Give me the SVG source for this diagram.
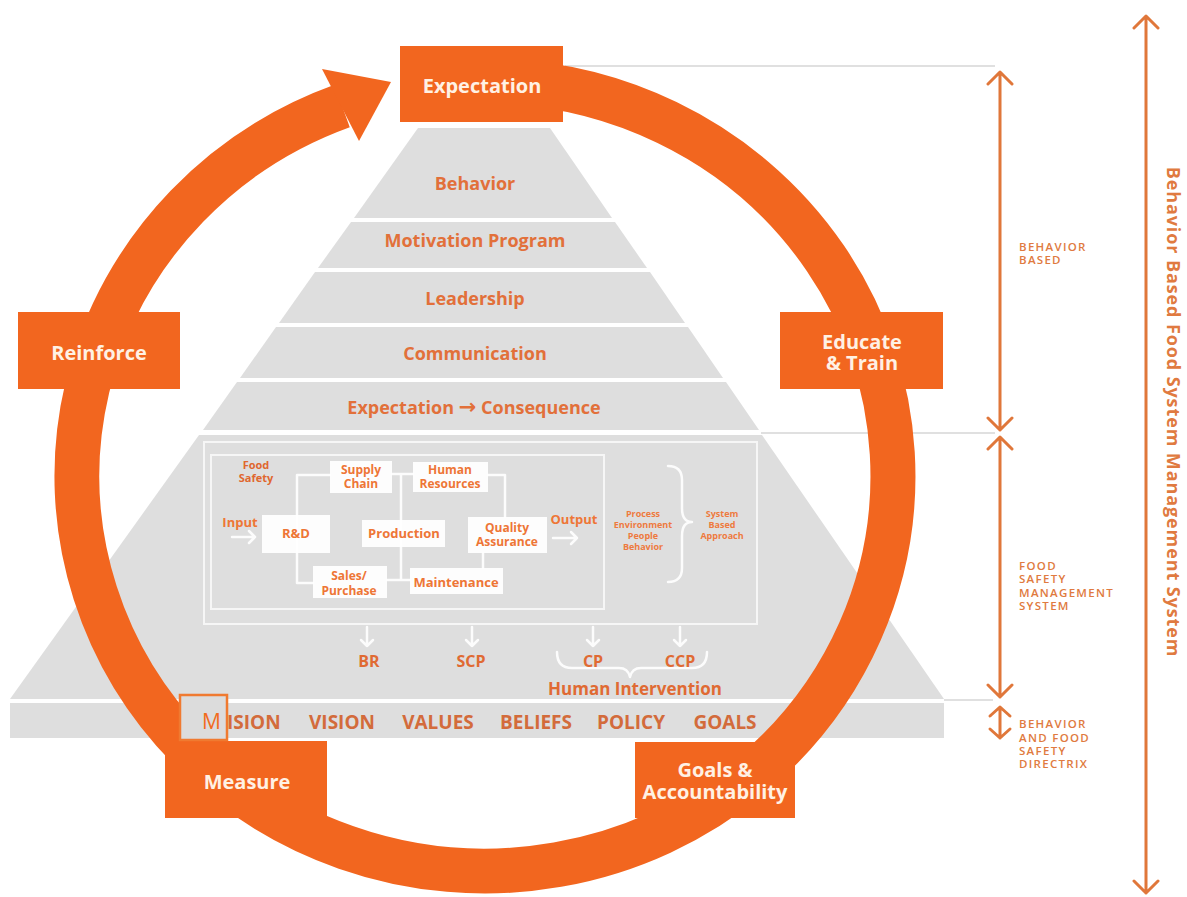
<svg xmlns="http://www.w3.org/2000/svg" width="1187" height="897" viewBox="0 0 1187 897">
  <defs>
    <style>
      text { font-family: "Open Sans", "Liberation Sans", sans-serif; }
      .tier { fill: #DEDEDE; }
      .tier-lbl { font-size: 18px; font-weight: 700; fill: #E2703A; text-anchor: middle; }
      .cycle-box { fill: #F2661F; }
      .cycle-lbl { font-size: 20px; font-weight: 700; fill: #FFF1E4; text-anchor: middle; }
      .flow-box { fill: #FFFFFF; fill-opacity: 0.92; }
      .flow-lbl { font-size: 12px; font-weight: 700; fill: #EE7636; text-anchor: middle; }
      .flow-big { font-size: 13px; }
      .flow-line { fill: none; stroke: #FFFFFF; stroke-width: 2.5; stroke-opacity: 0.9; stroke-linecap: round; stroke-linejoin: round; }
      .frame { fill: none; stroke: #F6F6F6; stroke-width: 2; }
      .tiny { font-size: 9px; font-weight: 700; fill: #EE7A3E; text-anchor: middle; }
      .point { font-size: 16px; font-weight: 700; fill: #E06A33; text-anchor: middle; }
      .base-lbl { font-size: 19px; font-weight: 700; fill: #D36B3B; text-anchor: middle; }
      .guide { stroke: #D6D6D6; stroke-width: 1.5; }
      .dim { fill: none; stroke: #E0773A; stroke-width: 3; stroke-linecap: round; stroke-linejoin: round; }
      .dim-lbl { font-size: 11.5px; font-weight: 600; fill: #E07A40; letter-spacing: 1.3px; }
    </style>
  </defs>

  <rect width="1187" height="897" fill="#FFFFFF"/>

  <!-- light guide lines running out to the scale on the right -->
  <g id="guides">
    <path class="guide" d="M565 66 H995"/>
    <path class="guide" d="M761 433 H995"/>
    <path class="guide" d="M944 700 H993"/>
  </g>

  <!-- pyramid tiers -->
  <g id="pyramid">
    <g id="tier-behavior">
      <polygon class="tier" points="418,128 550,128 612,218 354,218"/>
      <text class="tier-lbl" x="475" y="190">Behavior</text>
    </g>
    <g id="tier-motivation">
      <polygon class="tier" points="351,222 615,222 647,268 318,268"/>
      <text class="tier-lbl" x="475" y="247">Motivation Program</text>
    </g>
    <g id="tier-leadership">
      <polygon class="tier" points="315,272 650,272 685,323 279,323"/>
      <text class="tier-lbl" x="475" y="305">Leadership</text>
    </g>
    <g id="tier-communication">
      <polygon class="tier" points="276,327 688,327 723,378 240,378"/>
      <text class="tier-lbl" x="475" y="360">Communication</text>
    </g>
    <g id="tier-consequence">
      <polygon class="tier" points="237,382 726,382 759,430 203,430"/>
      <text class="tier-lbl" x="474" y="414">Expectation <tspan font-family="DejaVu Sans, sans-serif" font-size="21">→</tspan> Consequence</text>
    </g>
    <g id="tier-fsms">
      <polygon class="tier" points="199,435 762,435 944,699 10,699"/>
    </g>
    <g id="base-strip">
      <rect class="tier" x="10" y="703" width="934" height="35"/>
      <text class="base-lbl" x="227" y="729" style="text-anchor:start">ISION</text>
      <text class="base-lbl" x="342" y="729">VISION</text>
      <text class="base-lbl" x="438" y="729">VALUES</text>
      <text class="base-lbl" x="536" y="729">BELIEFS</text>
      <text class="base-lbl" x="631" y="729">POLICY</text>
      <text class="base-lbl" x="725" y="729">GOALS</text>
    </g>
  </g>

  <!-- food safety management system block -->
  <g id="fsms">
    <rect class="frame" x="204" y="442" width="553" height="182"/>
    <rect class="frame" x="211" y="455" width="393" height="154"/>

    <g id="flow-connectors">
      <path class="flow-line" d="M330 475 H297 V583 H313"/>
      <path class="flow-line" d="M392 474 H413 M401 474 V580 M387 580 H410"/>
      <path class="flow-line" d="M488 475 H505 V517"/>
      <path class="flow-line" d="M483 553 V568"/>
      <path class="flow-line" d="M232 537 H255 M249 531 L255 537 L249 543"/>
      <path class="flow-line" d="M553 538 H577 M571 532 L577 538 L571 544"/>
      <path class="flow-line" d="M668 466 Q682 466 682 480 V508 Q682 522 692 522 Q682 522 682 536 V568 Q682 582 668 582"/>
      <path class="flow-line" d="M367 627 V646 M361 640 L367 646 L373 640"/>
      <path class="flow-line" d="M472 627 V646 M466 640 L472 646 L478 640"/>
      <path class="flow-line" d="M593 627 V646 M587 640 L593 646 L599 640"/>
      <path class="flow-line" d="M680 627 V646 M674 640 L680 646 L686 640"/>
      <path class="flow-line" d="M557 652 Q557 668 572 668 H619 Q628 668 630 677 Q632 668 641 668 H692 Q707 668 707 652"/>
    </g>

    <g id="food-safety">
      <text class="flow-lbl" x="256" y="469" style="fill:#E0672E;font-size:11px">Food</text>
      <text class="flow-lbl" x="256" y="482" style="fill:#E0672E;font-size:11px">Safety</text>
    </g>
    <g id="input"><text class="flow-lbl flow-big" x="240" y="527">Input</text></g>
    <g id="supply-chain">
      <rect class="flow-box" x="330" y="461" width="62" height="32"/>
      <text class="flow-lbl" x="361" y="474">Supply</text>
      <text class="flow-lbl" x="361" y="488">Chain</text>
    </g>
    <g id="human-resources">
      <rect class="flow-box" x="413" y="462" width="75" height="30"/>
      <text class="flow-lbl" x="450" y="474">Human</text>
      <text class="flow-lbl" x="450" y="488">Resources</text>
    </g>
    <g id="rnd">
      <rect class="flow-box" x="262" y="515" width="68" height="38"/>
      <text class="flow-lbl flow-big" x="296" y="538">R&amp;D</text>
    </g>
    <g id="production">
      <rect class="flow-box" x="362" y="520" width="83" height="27"/>
      <text class="flow-lbl flow-big" x="404" y="538">Production</text>
    </g>
    <g id="quality-assurance">
      <rect class="flow-box" x="468" y="517" width="79" height="36"/>
      <text class="flow-lbl" x="507" y="532">Quality</text>
      <text class="flow-lbl" x="507" y="546">Assurance</text>
    </g>
    <g id="sales-purchase">
      <rect class="flow-box" x="313" y="566" width="74" height="32"/>
      <text class="flow-lbl" x="349" y="580">Sales/</text>
      <text class="flow-lbl" x="349" y="595">Purchase</text>
    </g>
    <g id="maintenance">
      <rect class="flow-box" x="410" y="568" width="93" height="26"/>
      <text class="flow-lbl flow-big" x="456" y="587">Maintenance</text>
    </g>
    <g id="output"><text class="flow-lbl flow-big" x="574" y="524">Output</text></g>
    <g id="process-list">
      <text class="tiny" x="643" y="517">Process</text>
      <text class="tiny" x="643" y="528">Environment</text>
      <text class="tiny" x="643" y="539">People</text>
      <text class="tiny" x="643" y="550">Behavior</text>
    </g>
    <g id="system-approach">
      <text class="tiny" x="722" y="517">System</text>
      <text class="tiny" x="722" y="528">Based</text>
      <text class="tiny" x="722" y="539">Approach</text>
    </g>
    <g id="br"><text class="point" x="369" y="667">BR</text></g>
    <g id="scp"><text class="point" x="471" y="667">SCP</text></g>
    <g id="cp"><text class="point" x="593" y="667">CP</text></g>
    <g id="ccp"><text class="point" x="680" y="667">CCP</text></g>
    <g id="human-intervention"><text class="point" x="635" y="695" style="font-size:17px">Human Intervention</text></g>
  </g>

  <!-- the clockwise improvement cycle -->
  <g id="cycle-connectors">
    <path d="M485 81 A408 395 0 1 1 342.1 106" fill="none" stroke="#F2661F" stroke-width="45"/>
    <polygon points="322,69 391,82 359,141" fill="#F2661F"/>
  </g>

  <g id="expectation">
    <rect class="cycle-box" x="400" y="46" width="163" height="76"/>
    <text class="cycle-lbl" x="482" y="93">Expectation</text>
  </g>
  <g id="educate-train">
    <rect class="cycle-box" x="780" y="312" width="163" height="77"/>
    <text class="cycle-lbl" x="862" y="349">Educate</text>
    <text class="cycle-lbl" x="862" y="370">&amp; Train</text>
  </g>
  <g id="goals-accountability">
    <rect class="cycle-box" x="635" y="742" width="160" height="76"/>
    <text class="cycle-lbl" x="715" y="777">Goals &amp;</text>
    <text class="cycle-lbl" x="715" y="799">Accountability</text>
  </g>
  <g id="measure">
    <rect class="cycle-box" x="165" y="741" width="162" height="77"/>
    <text class="cycle-lbl" x="247" y="789">Measure</text>
  </g>
  <g id="reinforce">
    <rect class="cycle-box" x="18" y="312" width="162" height="77"/>
    <text class="cycle-lbl" x="99" y="360">Reinforce</text>
  </g>

  <g id="mission-initial">
    <rect x="180" y="695" width="47" height="45" fill="#DCDCDC" stroke="#F07A30" stroke-width="2.5"/>
    <text x="202" y="729" font-size="21" fill="#F26B1D">M</text>
  </g>

  <!-- scale on the right -->
  <g id="scale">
    <path class="dim" d="M1000 72 V430 M988 84 L1000 72 L1012 84 M988 418 L1000 430 L1012 418"/>
    <path class="dim" d="M1000 437 V697 M988 449 L1000 437 L1012 449 M988 685 L1000 697 L1012 685"/>
    <path class="dim" d="M1000 707 V738 M990 716 L1000 707 L1010 716 M990 729 L1000 738 L1010 729"/>
    <path class="dim" d="M1146 16 V893 M1134 28 L1146 16 L1158 28 M1134 881 L1146 893 L1158 881"/>
    <g id="label-behavior-based">
      <text class="dim-lbl" x="1019" y="251">BEHAVIOR</text>
      <text class="dim-lbl" x="1019" y="264">BASED</text>
    </g>
    <g id="label-fsms">
      <text class="dim-lbl" x="1019" y="570">FOOD</text>
      <text class="dim-lbl" x="1019" y="583">SAFETY</text>
      <text class="dim-lbl" x="1019" y="597">MANAGEMENT</text>
      <text class="dim-lbl" x="1019" y="610">SYSTEM</text>
    </g>
    <g id="label-directrix">
      <text class="dim-lbl" x="1019" y="728">BEHAVIOR</text>
      <text class="dim-lbl" x="1019" y="742">AND FOOD</text>
      <text class="dim-lbl" x="1019" y="755">SAFETY</text>
      <text class="dim-lbl" x="1019" y="768">DIRECTRIX</text>
    </g>
    <text transform="translate(1167 412) rotate(90)" font-size="18" font-weight="700" letter-spacing="0.9" fill="#E07A40" text-anchor="middle">Behavior Based Food System Management System</text>
  </g>
</svg>
